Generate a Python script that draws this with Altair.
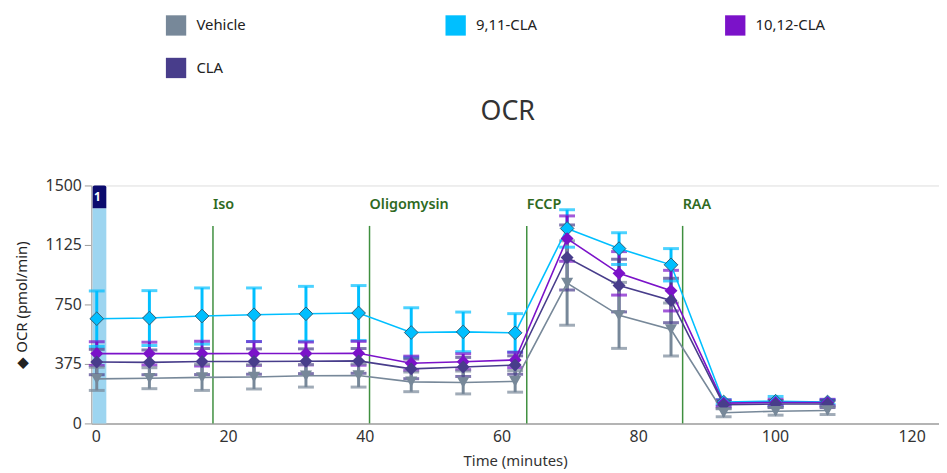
import altair as alt
import pandas as pd

# ---------------- data ----------------
times = [0.8, 8.5, 16.2, 23.8, 31.4, 39.1, 46.8, 54.4, 62.0, 69.6, 77.2, 84.8, 92.5, 100.1, 107.7]
series = ["Vehicle", "9,11-CLA", "10,12-CLA", "CLA"]
colors = ["#778899", "#00bfff", "#7b12c9", "#483d8b"]

vehicle_mean = [281, 285, 290, 293, 300, 302, 262, 258, 265, 885, 681, 592, 67, 77, 81]
vehicle_sd = [73, 66, 82, 76, 71, 73, 62, 72, 68, 266, 208, 167, 25, 25, 25]
cla911_mean = [660, 664, 677, 685, 691, 696, 573, 577, 571, 1229, 1102, 1000, 135, 140, 135]
cla911_sd = [175, 173, 177, 169, 173, 173, 156, 125, 121, 118, 100, 102, 15, 30, 15]
cla1012_mean = [440, 440, 440, 441, 441, 442, 379, 389, 400, 1165, 946, 837, 128, 132, 132]
cla1012_sd = [75, 72, 78, 75, 72, 75, 45, 50, 48, 143, 137, 128, 20, 20, 20]
cla_mean = [387, 385, 390, 390, 392, 394, 344, 356, 368, 1046, 869, 775, 118, 122, 122]
cla_sd = [80, 78, 82, 80, 78, 78, 62, 60, 58, 205, 166, 140, 22, 22, 22]

injection_times = [17.8, 40.7, 63.7, 86.5]
injection_labels = ["Iso", "Oligomysin", "FCCP", "RAA"]
injection_top = [1245, 1245, 1245, 1245]
injection_label_y = [1375, 1375, 1375, 1375]

band_start = [0.2]
band_end = [2.2]
band_top = [1356]
band_box_top = [1500]
band_labels = ["1"]
band_label_x = [0.9]
band_label_y = [1428]

chart_title = ["OCR"]

y_ticks = [0, 375, 750, 1125, 1500]
x_ticks = [0, 20, 40, 60, 80, 100, 120]

# ---------------- tables ----------------
means = {"Vehicle": vehicle_mean, "9,11-CLA": cla911_mean, "10,12-CLA": cla1012_mean, "CLA": cla_mean}
sds = {"Vehicle": vehicle_sd, "9,11-CLA": cla911_sd, "10,12-CLA": cla1012_sd, "CLA": cla_sd}
draw_order = ["9,11-CLA", "10,12-CLA", "CLA", "Vehicle"]
rows = []
for k, g in enumerate(draw_order):
    for t, m, s in zip(times, means[g], sds[g]):
        rows.append({"time": t, "group": g, "mean": m, "lo": max(m - s, 0), "hi": m + s, "ord": k})
df = pd.DataFrame(rows)

inj = pd.DataFrame({"time": injection_times, "label": injection_labels,
                    "top": injection_top, "ly": injection_label_y, "zero": 0})
band = pd.DataFrame({"x": band_start, "x2": band_end, "top": band_top, "boxtop": band_box_top,
                     "label": band_labels, "lx": band_label_x, "ly": band_label_y, "zero": 0})
title_df = pd.DataFrame({"t": chart_title})

FONT = "Noto Sans"
W, H = 855, 240
xscale = alt.Scale(domain=[0, 124], nice=False, zero=False)
yscale = alt.Scale(domain=[0, 1500], nice=False)

xaxis = alt.Axis(values=x_ticks, ticks=False, grid=False, title="Time (minutes)",
                 labelFontSize=16, titleFontSize=15, titleFontWeight="normal",
                 labelColor="#333333", titleColor="#333333", domainColor="#b4b4b4",
                 domainWidth=2, labelPadding=5, titlePadding=9, labelFont=FONT, titleFont=FONT)
yaxis = alt.Axis(values=y_ticks, format="d", grid=False, title="◆ OCR (pmol/min)", tickSize=7,
                 tickColor="#9a9a9a", domainColor="#b4b4b4", domainWidth=1.5,
                 labelFontSize=16, titleFontSize=15, titleFontWeight="normal",
                 labelColor="#333333", titleColor="#222222", labelPadding=3, titlePadding=16,
                 labelFont=FONT, titleFont=FONT)

color_scale = alt.Scale(domain=series, range=colors)
legend = alt.Legend(orient="none", legendX=75, legendY=-172, direction="horizontal",
                    columns=3, gridAlign="all", columnPadding=180, rowPadding=22,
                    symbolType="square", symbolSize=420, symbolStrokeWidth=0, symbolOpacity=1,
                    labelFontSize=15, labelFont=FONT, labelColor="#222222", labelOffset=10,
                    title=None)

base = alt.Chart(df)

band_rect = alt.Chart(band).mark_rect(color="#9dd5f0").encode(
    x=alt.X("x:Q", scale=xscale, axis=xaxis), x2="x2:Q",
    y=alt.Y("zero:Q", scale=yscale, axis=yaxis), y2="top:Q")
band_box = alt.Chart(band).mark_rect(color="#0b0b6e", cornerRadiusTopLeft=2, cornerRadiusTopRight=2).encode(
    x="x:Q", x2="x2:Q", y="top:Q", y2="boxtop:Q")
band_text = alt.Chart(band).mark_text(color="white", fontWeight="bold", fontSize=12, font=FONT).encode(
    x="lx:Q", y="ly:Q", text="label:N")

inj_rule = alt.Chart(inj).mark_rule(color="#3f8f3f", strokeWidth=1.5).encode(
    x="time:Q", y="zero:Q", y2="top:Q")
inj_text = alt.Chart(inj).mark_text(color="#2f6a1f", fontWeight=600, fontSize=14.5, align="left",
                                    baseline="middle", font=FONT).encode(
    x="time:Q", y="ly:Q", text="label:N")

title_text = alt.Chart(title_df).mark_text(fontSize=27, font=FONT, color="#333333",
                                           align="center", baseline="middle").encode(
    x=alt.value(420), y=alt.value(-74), text="t:N")

nolegend = alt.Color("group:N", scale=color_scale, legend=None)
err = base.mark_rule(strokeWidth=3).encode(
    x="time:Q", y="lo:Q", y2="hi:Q", color=nolegend, order="ord:Q")
cap_lo = base.mark_tick(thickness=3, size=16, orient="horizontal").encode(
    x="time:Q", y="lo:Q", color=nolegend)
cap_hi = base.mark_tick(thickness=3, size=16, orient="horizontal").encode(
    x="time:Q", y="hi:Q", color=nolegend)
lines = base.mark_line(strokeWidth=1.6).encode(
    x="time:Q", y="mean:Q", detail="group:N", color=nolegend, order="time:Q")

pts_veh = base.transform_filter(alt.datum.group == "Vehicle").mark_point(
    shape="triangle-down", filled=True, size=150, opacity=1).encode(
    x="time:Q", y="mean:Q", color=nolegend)
pts_mid = base.transform_filter((alt.datum.group == "CLA") | (alt.datum.group == "10,12-CLA")).mark_point(
    shape="diamond", filled=True, size=170, opacity=1).encode(
    x="time:Q", y="mean:Q", color=nolegend)
pts_blue = base.transform_filter(alt.datum.group == "9,11-CLA").mark_point(
    shape="diamond", filled=True, size=190, opacity=1, stroke="#2b5f78", strokeWidth=1).encode(
    x="time:Q", y="mean:Q", color=alt.Color("group:N", scale=color_scale, legend=legend))

chart = alt.layer(
    band_rect, band_box, band_text, inj_rule, inj_text, title_text,
    err, cap_lo, cap_hi, lines, pts_blue, pts_mid, pts_veh
).resolve_legend(color="independent").properties(
    width=W, height=H,
    padding={"left": 6, "top": 5, "right": 0, "bottom": 0}
).configure_view(stroke=None).configure(font=FONT)

chart.save("out.html", embed_options={"renderer": "svg", "actions": False})
